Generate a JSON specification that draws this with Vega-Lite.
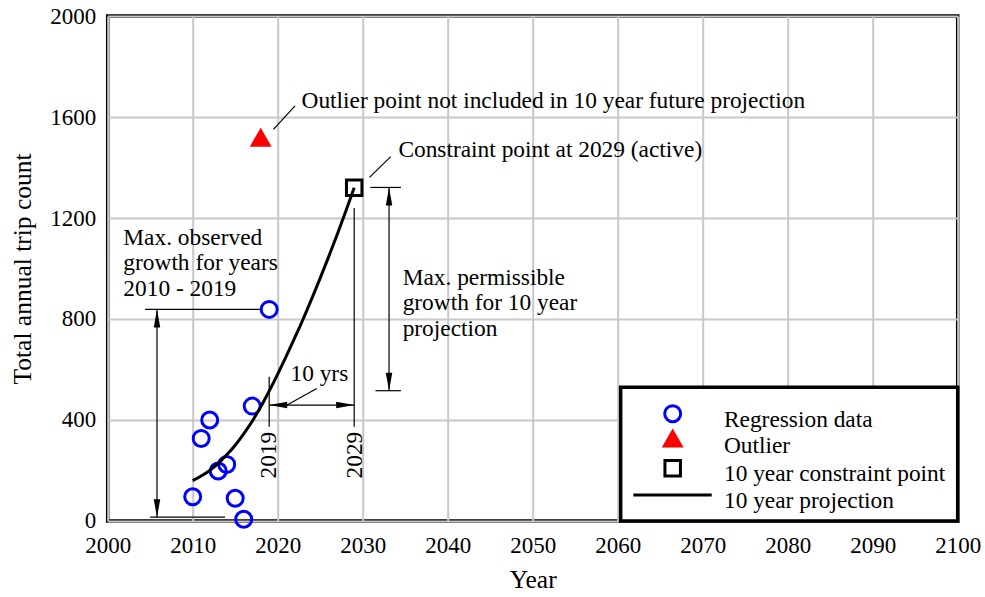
{
  "$schema": "https://vega.github.io/schema/vega-lite/v6.json",
  "width": 850,
  "height": 505,
  "autosize": {"type": "none"},
  "padding": {"left": 107.7, "top": 16, "right": 27, "bottom": 76},
  "background": "white",
  "config": {
    "view": {"stroke": "black", "strokeWidth": 3.5},
    "font": "Liberation Serif",
    "axis": {
      "domain": false,
      "ticks": false,
      "labelFont": "Liberation Serif",
      "labelFontSize": 23,
      "labelColor": "black",
      "titleFont": "Liberation Serif",
      "titleFontSize": 25.5,
      "titleFontWeight": "normal",
      "titleColor": "black",
      "gridColor": "#c8c8c8",
      "gridWidth": 2,
      "gridOpacity": 1
    },
    "text": {"font": "Liberation Serif", "fontSize": 23.4, "color": "black"}
  },
  "datasets": {
    "regression": [
      {"year": 2010, "trips": 96},
      {"year": 2011, "trips": 327},
      {"year": 2012, "trips": 400},
      {"year": 2013, "trips": 198},
      {"year": 2014, "trips": 224},
      {"year": 2015, "trips": 90},
      {"year": 2016, "trips": 7},
      {"year": 2017, "trips": 455},
      {"year": 2019, "trips": 838}
    ],
    "outlier": [{"year": 2018, "trips": 1520}],
    "constraint": [{"year": 2029, "trips": 1320}],
    "projection": [
      {"year": 2010, "trips": 160},
      {"year": 2011, "trips": 178},
      {"year": 2012, "trips": 200},
      {"year": 2013, "trips": 228},
      {"year": 2014, "trips": 262},
      {"year": 2015, "trips": 300},
      {"year": 2016, "trips": 345},
      {"year": 2017, "trips": 395},
      {"year": 2018, "trips": 452},
      {"year": 2019, "trips": 515},
      {"year": 2020, "trips": 582},
      {"year": 2021, "trips": 652},
      {"year": 2022, "trips": 725},
      {"year": 2023, "trips": 800},
      {"year": 2024, "trips": 880},
      {"year": 2025, "trips": 962},
      {"year": 2026, "trips": 1047},
      {"year": 2027, "trips": 1135},
      {"year": 2028, "trips": 1226},
      {"year": 2029, "trips": 1320}
    ],
    "segments": [
      {"x": 2004.4, "y": 838, "x2": 2018.0, "y2": 838},
      {"x": 2005.0, "y": 15, "x2": 2013.8, "y2": 15},
      {"x": 2005.8, "y": 838, "x2": 2005.8, "y2": 15},
      {"x": 2030.9, "y": 1321, "x2": 2034.5, "y2": 1321},
      {"x": 2031.5, "y": 516, "x2": 2034.5, "y2": 516},
      {"x": 2033.1, "y": 1321, "x2": 2033.1, "y2": 516},
      {"x": 2019.0, "y": 571, "x2": 2019.0, "y2": 373},
      {"x": 2029.0, "y": 1240, "x2": 2029.0, "y2": 373},
      {"x": 2019.0, "y": 459, "x2": 2029.0, "y2": 459},
      {"x": 2021.1, "y": 459, "x2": 2024.6, "y2": 525},
      {"x": 2019.5, "y": 1551, "x2": 2022.04, "y2": 1644},
      {"x": 2030.8, "y": 1361, "x2": 2033.3, "y2": 1443}
    ],
    "arrowheads": [
      {"x": 2005.8, "y": 838, "dir": "up"},
      {"x": 2005.8, "y": 15, "dir": "down"},
      {"x": 2033.1, "y": 1321, "dir": "up"},
      {"x": 2033.1, "y": 516, "dir": "down"},
      {"x": 2019.0, "y": 459, "dir": "left"},
      {"x": 2029.0, "y": 459, "dir": "right"}
    ],
    "notes": [
      {"x": 2022.8, "y": 1634, "text": "Outlier point not included in 10 year future projection"},
      {"x": 2034.2, "y": 1443, "text": "Constraint point at 2029 (active)"},
      {"x": 2001.84, "y": 1093, "text": "Max. observed"},
      {"x": 2001.84, "y": 994, "text": "growth for years"},
      {"x": 2001.84, "y": 891, "text": "2010 - 2019"},
      {"x": 2034.7, "y": 935, "text": "Max. permissible"},
      {"x": 2034.7, "y": 836, "text": "growth for 10 year"},
      {"x": 2034.7, "y": 734, "text": "projection"},
      {"x": 2021.5, "y": 556, "text": "10 yrs"},
      {"x": 2072.5, "y": 373, "text": "Regression data"},
      {"x": 2072.5, "y": 268, "text": "Outlier"},
      {"x": 2072.5, "y": 160, "text": "10 year constraint point"},
      {"x": 2072.5, "y": 53, "text": "10 year projection"}
    ],
    "yearTags": [
      {"x": 2019.0, "y": 261, "text": "2019"},
      {"x": 2029.1, "y": 261, "text": "2029"}
    ],
    "legendBox": [{"x": 2060.35, "y": 0, "x2": 2100, "y2": 529.5}],
    "legendCircle": [{"x": 2066.47, "y": 425}],
    "legendTriangle": [{"x": 2066.47, "y": 329}],
    "legendSquare": [{"x": 2066.47, "y": 209}],
    "legendLine": [{"x": 2061.84, "y": 103, "x2": 2071.06}]
  },
  "encoding": {
    "x": {
      "type": "quantitative",
      "scale": {"domain": [2000, 2100], "nice": false, "zero": false},
      "axis": {"values": [2000, 2010, 2020, 2030, 2040, 2050, 2060, 2070, 2080, 2090, 2100], "format": "d", "title": "Year", "labelPadding": 14, "titlePadding": 10, "labelFlush": false}
    },
    "y": {
      "type": "quantitative",
      "scale": {"domain": [0, 2000], "nice": false},
      "axis": {"values": [0, 400, 800, 1200, 1600, 2000], "format": "d", "title": "Total annual trip count", "labelPadding": 12, "titlePadding": 14, "labelFlush": false}
    }
  },
  "layer": [
    {
      "data": {"name": "segments"},
      "mark": {"type": "rule", "color": "black", "strokeWidth": 1.2},
      "encoding": {
        "x": {"field": "x", "type": "quantitative"},
        "y": {"field": "y", "type": "quantitative"},
        "x2": {"field": "x2"},
        "y2": {"field": "y2"}
      }
    },
    {
      "data": {"name": "arrowheads"},
      "mark": {"type": "point", "filled": true, "color": "black", "size": 324, "opacity": 1, "strokeWidth": 0},
      "encoding": {
        "x": {"field": "x", "type": "quantitative"},
        "y": {"field": "y", "type": "quantitative"},
        "shape": {
          "field": "dir",
          "type": "nominal",
          "scale": {
            "domain": ["up", "down", "left", "right"],
            "range": ["M0,0L0.36,2L-0.36,2Z", "M0,0L0.36,-2L-0.36,-2Z", "M0,0L2,0.36L2,-0.36Z", "M0,0L-2,0.36L-2,-0.36Z"]
          },
          "legend": null
        }
      }
    },
    {
      "data": {"name": "notes"},
      "transform": [{"filter": "datum.x < 2070"}],
      "mark": {"type": "text", "align": "left", "baseline": "alphabetic"},
      "encoding": {
        "x": {"field": "x", "type": "quantitative"},
        "y": {"field": "y", "type": "quantitative"},
        "text": {"field": "text"}
      }
    },
    {
      "data": {"name": "yearTags"},
      "mark": {"type": "text", "align": "center", "baseline": "middle", "angle": 270},
      "encoding": {
        "x": {"field": "x", "type": "quantitative"},
        "y": {"field": "y", "type": "quantitative"},
        "text": {"field": "text"}
      }
    },
    {
      "data": {"name": "regression"},
      "mark": {"type": "point", "shape": "circle", "filled": false, "color": "#0000ff", "size": 256, "strokeWidth": 3, "opacity": 1},
      "encoding": {
        "x": {"field": "year", "type": "quantitative"},
        "y": {"field": "trips", "type": "quantitative"}
      }
    },
    {
      "data": {"name": "outlier"},
      "mark": {"type": "point", "shape": "triangle-up", "filled": true, "color": "#ff0000", "size": 480, "opacity": 1, "strokeWidth": 0},
      "encoding": {
        "x": {"field": "year", "type": "quantitative"},
        "y": {"field": "trips", "type": "quantitative"}
      }
    },
    {
      "data": {"name": "projection"},
      "mark": {"type": "line", "color": "black", "strokeWidth": 3, "interpolate": "monotone"},
      "encoding": {
        "x": {"field": "year", "type": "quantitative"},
        "y": {"field": "trips", "type": "quantitative"}
      }
    },
    {
      "data": {"name": "constraint"},
      "mark": {"type": "point", "shape": "square", "filled": false, "color": "black", "size": 240, "strokeWidth": 3, "opacity": 1},
      "encoding": {
        "x": {"field": "year", "type": "quantitative"},
        "y": {"field": "trips", "type": "quantitative"}
      }
    },
    {
      "data": {"name": "legendBox"},
      "mark": {"type": "rect", "fill": "white", "stroke": "black", "strokeWidth": 3.5},
      "encoding": {
        "x": {"field": "x", "type": "quantitative"},
        "y": {"field": "y", "type": "quantitative"},
        "x2": {"field": "x2"},
        "y2": {"field": "y2"}
      }
    },
    {
      "data": {"name": "legendCircle"},
      "mark": {"type": "point", "shape": "circle", "filled": false, "color": "#0000ff", "size": 256, "strokeWidth": 3, "opacity": 1},
      "encoding": {
        "x": {"field": "x", "type": "quantitative"},
        "y": {"field": "y", "type": "quantitative"}
      }
    },
    {
      "data": {"name": "legendTriangle"},
      "mark": {"type": "point", "shape": "triangle-up", "filled": true, "color": "#ff0000", "size": 480, "opacity": 1, "strokeWidth": 0},
      "encoding": {
        "x": {"field": "x", "type": "quantitative"},
        "y": {"field": "y", "type": "quantitative"}
      }
    },
    {
      "data": {"name": "legendSquare"},
      "mark": {"type": "point", "shape": "square", "filled": false, "color": "black", "size": 240, "strokeWidth": 3, "opacity": 1},
      "encoding": {
        "x": {"field": "x", "type": "quantitative"},
        "y": {"field": "y", "type": "quantitative"}
      }
    },
    {
      "data": {"name": "legendLine"},
      "mark": {"type": "rule", "color": "black", "strokeWidth": 3},
      "encoding": {
        "x": {"field": "x", "type": "quantitative"},
        "y": {"field": "y", "type": "quantitative"},
        "x2": {"field": "x2"}
      }
    },
    {
      "data": {"name": "notes"},
      "transform": [{"filter": "datum.x > 2070"}],
      "mark": {"type": "text", "align": "left", "baseline": "alphabetic"},
      "encoding": {
        "x": {"field": "x", "type": "quantitative"},
        "y": {"field": "y", "type": "quantitative"},
        "text": {"field": "text"}
      }
    }
  ]
}
